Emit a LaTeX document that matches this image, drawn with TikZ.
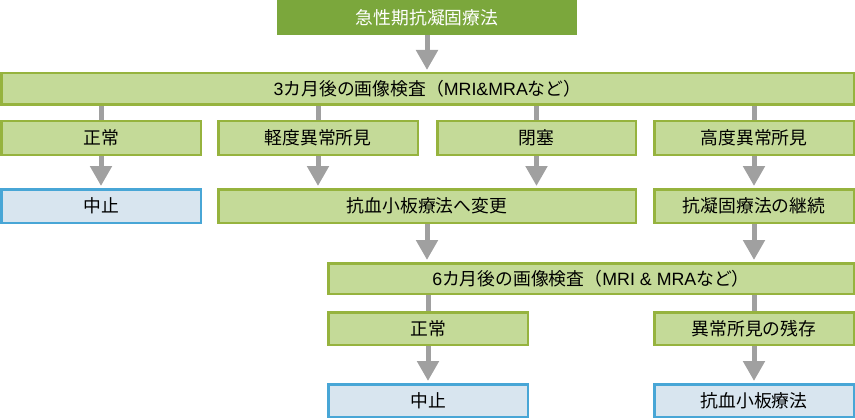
\documentclass[tikz,border=0pt]{standalone}
\usepackage{fontspec}
\newfontfamily\jp{Noto Sans CJK JP}
\newfontfamily\lat{Liberation Sans}
\usetikzlibrary{arrows.meta}
\definecolor{dkgreen}{HTML}{7BA73C}
\definecolor{ltgreen}{HTML}{C4DA98}
\definecolor{grborder}{HTML}{96B33E}
\definecolor{ltblue}{HTML}{D8E5EF}
\definecolor{blborder}{HTML}{48A6D6}
\definecolor{arrgray}{HTML}{A0A0A0}
\tikzset{
  box/.style={draw=grborder, fill=ltgreen, line width=2.5pt, inner sep=0pt,
    font=\jp\fontsize{17.8}{20}\selectfont, text=black},
  bluebox/.style={box, draw=blborder, fill=ltblue},
  topbox/.style={fill=dkgreen, inner sep=0pt, text=white,
    font=\jp\fontsize{17.8}{20}\selectfont},
  bw/.style 2 args={minimum width=#1pt-2.5pt, minimum height=#2pt-2.5pt},
  conn/.style={draw=arrgray, line width=5pt},
  arr/.style={conn, -{Triangle[width=21pt,length=20pt]}, shorten >=2pt}
}
\begin{document}
\begin{tikzpicture}[x=1pt,y=-1pt]
\useasboundingbox (0,0) rectangle (855,420);
% top
\node[topbox, minimum width=300pt, minimum height=35pt] (top) at (427,17.5) {急性期抗凝固療法};
% row 1
\node[box, bw={855}{34}] (r1) at (427.5,89) {{\lat 3}カ月後の画像検査（{\lat MRI\&MRA}など）};
% row 2
\node[box, bw={202}{36}] (r2a) at (101,138) {正常};
\node[box, bw={202}{36}] (r2b) at (318,138) {軽度異常所見};
\node[box, bw={201}{36}] (r2c) at (536.5,138) {閉塞};
\node[box, bw={202}{36}] (r2d) at (754,138) {高度異常所見};
% row 3
\node[bluebox, bw={202}{36}] (r3a) at (101,206) {中止};
\node[box, bw={420}{36}] (r3b) at (427,206) {抗血小板療法へ変更};
\node[box, bw={202}{36}] (r3c) at (754,206) {抗凝固療法の継続};
% row 4
\node[box, bw={528}{33}] (r4) at (591,278.5) {{\lat 6}カ月後の画像検査（{\lat MRI \& MRA}など）};
% row 5
\node[box, bw={202}{35}] (r5a) at (428,328.5) {正常};
\node[box, bw={202}{35}] (r5b) at (754,328.5) {異常所見の残存};
% row 6
\node[bluebox, bw={202}{35}] (r6a) at (428,400.5) {中止};
\node[bluebox, bw={202}{35}] (r6b) at (754,400.5) {抗血小板療法};
% connectors
\draw[arr] (top.south) -- (r1.north -| top.south);
\draw[conn] (r2a.north |- r1.south) -- (r2a.north);
\draw[conn] (r2b.north |- r1.south) -- (r2b.north);
\draw[conn] (r2c.north |- r1.south) -- (r2c.north);
\draw[conn] (r2d.north |- r1.south) -- (r2d.north);
\draw[arr] (r2a.south) -- (r3a.north);
\draw[arr] (r2b.south) -- (r2b.south |- r3b.north);
\draw[arr] (r2c.south) -- (r2c.south |- r3b.north);
\draw[arr] (r2d.south) -- (r3c.north);
\draw[arr] (r3b.south) -- (r3b.south |- r4.north);
\draw[arr] (r3c.south) -- (r3c.south |- r4.north);
\draw[conn] (r5a.north |- r4.south) -- (r5a.north);
\draw[conn] (r5b.north |- r4.south) -- (r5b.north);
\draw[arr] (r5a.south) -- (r6a.north);
\draw[arr] (r5b.south) -- (r6b.north);
\end{tikzpicture}
\end{document}
